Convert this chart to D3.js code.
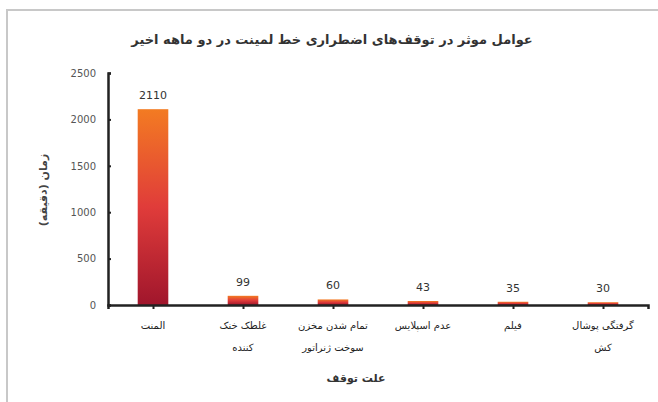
<!DOCTYPE html>
<html lang="fa">
<head>
    <meta charset="UTF-8">
    <title>عوامل موثر در توقف‌های اضطراری</title>
    <style>
        body { margin: 0; background: #fff; }
        text { font-family: "DejaVu Sans", sans-serif; }
    </style>
    <script src="https://cdn.jsdelivr.net/npm/d3@7"></script>
</head>
<body>
    <script>
        const categories = [
            ['المنت'],
            ['غلطک خنک', 'کننده'],
            ['تمام شدن مخزن', 'سوخت ژنراتور'],
            ['عدم اسپلایس'],
            ['فیلم'],
            ['گرفتگی پوشال', 'کش']
        ]
        const values = [2110, 99, 60, 43, 35, 30]
        const yTicks = [0, 500, 1000, 1500, 2000, 2500]
        const title = 'عوامل موثر در توقف‌های اضطراری خط لمینت در دو ماهه اخیر'
        const yTitle = 'زمان (دقیقه)'
        const xTitle = 'علت توقف'

        const width = 658
        const height = 402
        const margin = { top: 73, left: 108, bottom: 97, right: 10 }

        const svg = d3.select('body').append('svg').attr('width', width).attr('height', height)

        // frame of the original screenshot
        svg.append('rect').attr('x', 7).attr('y', 10).attr('width', width).attr('height', height)
            .attr('fill', 'none').attr('stroke', '#c8c8c8').attr('stroke-width', 2)

        const defs = svg.append('defs')
        const grad = defs.append('linearGradient').attr('id', 'barGrad')
            .attr('x1', 0).attr('y1', 0).attr('x2', 0).attr('y2', 1)
        grad.append('stop').attr('offset', '0%').attr('stop-color', '#f37b22')
        grad.append('stop').attr('offset', '50%').attr('stop-color', '#e03c3a')
        grad.append('stop').attr('offset', '100%').attr('stop-color', '#a0162c')

        const idx = values.map((d, i) => i)
        const xscale = d3.scaleBand().domain(idx).range([margin.left, width - margin.right]).paddingInner(0.66).paddingOuter(0.33)
        const xcenter = d3.scalePoint().domain(idx).range([margin.left, width - margin.right]).padding(0.5)
        const yscale = d3.scaleLinear().domain([0, 2500]).range([height - margin.bottom, margin.top])

        // bars
        svg.append('g').selectAll('rect').data(values).enter().append('rect')
            .attr('x', (d, i) => xcenter(i) - xscale.bandwidth() / 2)
            .attr('y', d => yscale(d))
            .attr('width', xscale.bandwidth())
            .attr('height', d => yscale(0) - yscale(d))
            .attr('fill', 'url(#barGrad)')

        // value labels
        svg.append('g').selectAll('text').data(values).enter().append('text')
            .attr('x', (d, i) => xcenter(i))
            .attr('y', d => yscale(d) - 10)
            .attr('text-anchor', 'middle')
            .attr('font-size', 11)
            .attr('fill', '#333')
            .text(d => d)

        // y axis
        const yAxis = d3.axisRight(yscale).tickValues(yTicks).tickSize(3).tickFormat(d3.format('d'))
        const gy = svg.append('g').attr('transform', `translate(${margin.left}, 0)`).call(yAxis)
        gy.select('.domain').attr('stroke', '#222').attr('stroke-width', 2.5)
        gy.selectAll('.tick line').attr('stroke', '#222').attr('stroke-width', 2)
        gy.selectAll('.tick text').attr('x', -12).attr('text-anchor', 'end')
            .attr('font-size', 10).attr('fill', '#555')

        // x axis
        const xAxis = d3.axisBottom(xcenter).tickSize(4).tickFormat('')
        const gx = svg.append('g').attr('transform', `translate(0, ${yscale(0)})`).call(xAxis)
        gx.select('.domain').attr('stroke', '#222').attr('stroke-width', 2.5)
        gx.selectAll('.tick line').attr('stroke', '#222').attr('stroke-width', 2)

        // category labels
        const cat = svg.append('g').selectAll('text').data(categories).enter().append('text')
            .attr('x', (d, i) => xcenter(i))
            .attr('y', yscale(0) + 24)
            .attr('text-anchor', 'middle')
            .attr('font-size', 10)
            .attr('fill', '#222')
        cat.selectAll('tspan').data(d => d).enter().append('tspan')
            .attr('x', function () { return d3.select(this.parentNode).attr('x') })
            .attr('dy', (d, i) => i === 0 ? 0 : 22)
            .text(d => d)

        // titles
        svg.append('text').attr('x', 332).attr('y', 44).attr('text-anchor', 'middle')
            .attr('font-size', 13).attr('font-weight', 'bold').attr('fill', '#333').text(title)
        svg.append('text').attr('transform', 'translate(47, 190) rotate(-90)').attr('text-anchor', 'middle')
            .attr('font-size', 11).attr('font-weight', 'bold').attr('fill', '#444').text(yTitle)
        svg.append('text').attr('x', 356).attr('y', 382).attr('text-anchor', 'middle')
            .attr('font-size', 11).attr('font-weight', 'bold').attr('fill', '#333').text(xTitle)
    </script>
</body>
</html>
